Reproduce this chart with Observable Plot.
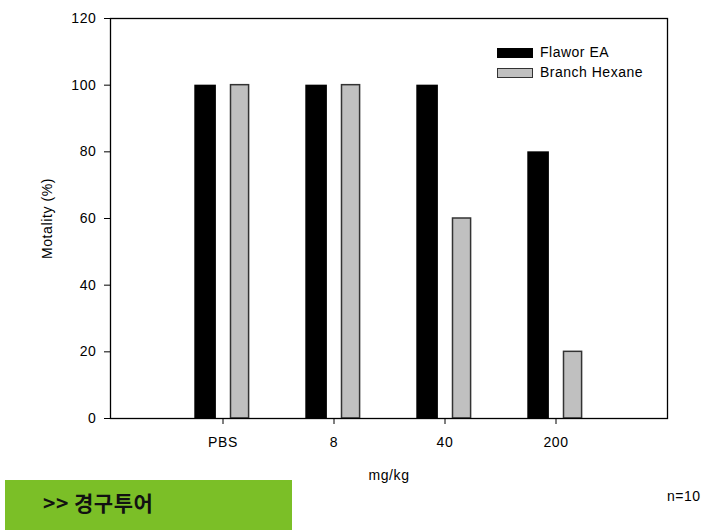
<!DOCTYPE html>
<html>
<head>
<meta charset="utf-8">
<script src="https://cdn.jsdelivr.net/npm/d3@7"></script>
<script src="https://cdn.jsdelivr.net/npm/@observablehq/plot@0.6"></script>
<style>
  body { margin: 0; background: #fff; font-family: "Liberation Sans", Arial, sans-serif; }
  #wrap { position: relative; width: 713px; height: 530px; overflow: hidden; }
  #wrap svg text { letter-spacing: 0.6px; }
  .leg { position: absolute; font-size: 14px; letter-spacing: 0.5px; color: #000; }
  .sw { position: absolute; box-sizing: border-box; }
  #green { position: absolute; left: 5px; top: 480px; width: 287px; height: 50px; background: #7bbf27; }
  #green span { position: absolute; left: 38px; top: 12px; font-family: "Noto Sans CJK KR", sans-serif; font-weight: bold; font-size: 21px; line-height: 1; letter-spacing: 0.5px; color: #111; }
  #n { position: absolute; left: 667px; top: 488px; font-size: 14px; letter-spacing: 0.5px; }
</style>
</head>
<body>
<div id="wrap"></div>
<script>
const categories = ["PBS", "8", "40", "200"];
const flaworEA = [100, 100, 100, 80];
const branchHexane = [100, 100, 60, 20];
const yTicks = [0, 20, 40, 60, 80, 100, 120];
const seriesNames = ["Flawor EA", "Branch Hexane"];

const data = categories.map((c, i) => ({cat: c, flawor: flaworEA[i], branch: branchHexane[i]}));

const chart = Plot.plot({
  width: 713,
  height: 500,
  marginLeft: 110,
  marginRight: 46,
  marginTop: 18,
  marginBottom: 82,
  style: {fontFamily: "Liberation Sans, Arial, sans-serif", fontSize: "14px", color: "#000", background: "#fff"},
  x: {domain: categories, paddingInner: 0, paddingOuter: 0.5, label: "mg/kg", labelAnchor: "center", labelOffset: 61, tickSize: 6, tickPadding: 13, labelArrow: "none"},
  y: {domain: [0, 120], ticks: yTicks, label: "Motality (%)", labelAnchor: "center", labelOffset: 68, tickSize: 6, tickPadding: 8, labelArrow: "none"},
  marks: [
    Plot.barY(data, {x: "cat", y: "flawor", fill: "#000", insetLeft: 27.3, insetRight: 62.1}),
    Plot.barY(data, {x: "cat", y: "branch", fill: "#c0c0c0", stroke: "#333", strokeWidth: 1.5, insetLeft: 63.5, insetRight: 29.4}),
    Plot.frame({stroke: "#000", strokeWidth: 1.3})
  ]
});

const wrap = document.getElementById("wrap");
wrap.appendChild(chart);

// legend
const legend = [
  {name: seriesNames[0], fill: "#000", border: "#000", top: 48},
  {name: seriesNames[1], fill: "#c0c0c0", border: "#333", top: 68}
];
legend.forEach(l => {
  const sw = document.createElement("div");
  sw.className = "sw";
  Object.assign(sw.style, {left: "497px", top: l.top + "px", width: "36px", height: "10px", background: l.fill, border: "1.5px solid " + l.border});
  wrap.appendChild(sw);
  const t = document.createElement("div");
  t.className = "leg";
  t.textContent = l.name;
  Object.assign(t.style, {left: "540px", top: (l.top - 4) + "px"});
  wrap.appendChild(t);
});

const g = document.createElement("div");
g.id = "green";
const gs = document.createElement("span");
gs.textContent = ">> 경구투어";
g.appendChild(gs);
wrap.appendChild(g);

const n = document.createElement("div");
n.id = "n";
n.textContent = "n=10";
wrap.appendChild(n);
</script>
</body>
</html>
